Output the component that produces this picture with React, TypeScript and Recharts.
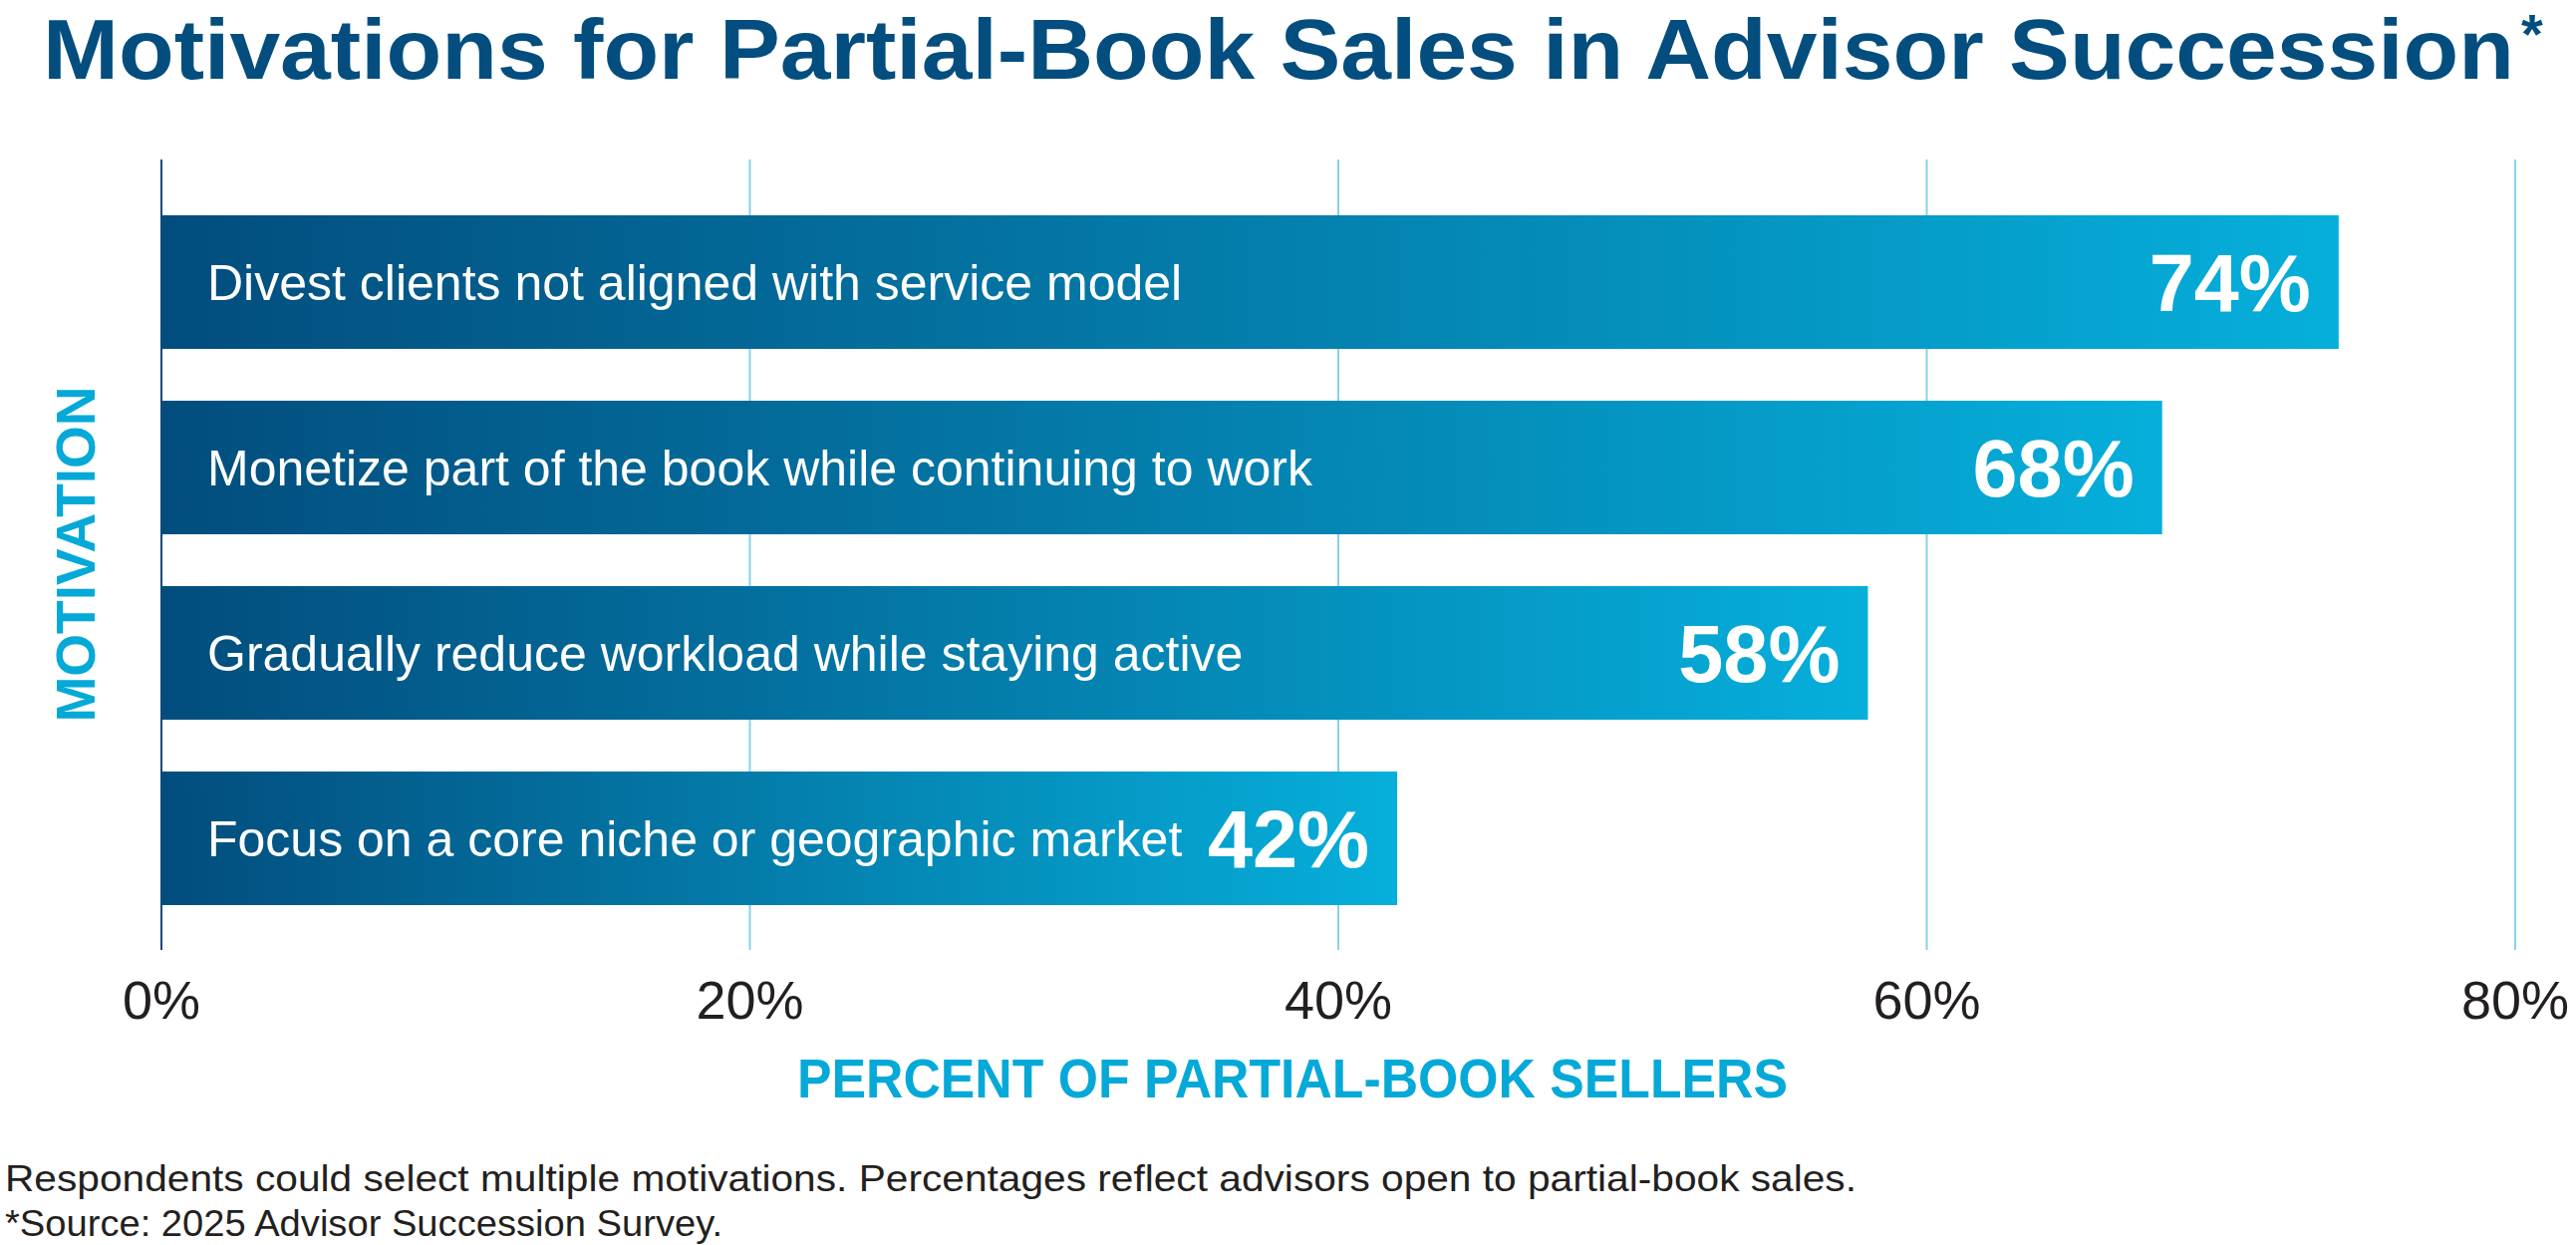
import React from 'react'
import {
    Bar,
    BarChart,
    CartesianGrid,
    LabelList,
    ReferenceLine,
    XAxis,
    YAxis,
} from 'recharts'

const MOTIVATIONS = [
    'Divest clients not aligned with service model',
    'Monetize part of the book while continuing to work',
    'Gradually reduce workload while staying active',
    'Focus on a core niche or geographic market',
]

const SHARES = [74, 68, 58, 42]

const X_TICKS = [0, 20, 40, 60, 80]

const DATA = MOTIVATIONS.map((motivation, i) => ({
    motivation,
    value: SHARES[i],
}))

const NAVY = '#034e7e'
const CYAN = '#05a9d8'
const GRID = '#86d2e9'
const INK = '#231f20'
const FONT = '"Liberation Sans", Arial, Helvetica, sans-serif'

const XTick = (props: any) => {
    const { x, y, payload } = props
    return (
        <text
            x={x}
            y={y + 67}
            textAnchor="middle"
            fontSize={54}
            fontFamily={FONT}
            fill={INK}
        >
            {`${payload.value}%`}
        </text>
    )
}

const renderName = (props: any) => {
    const { x, y, height, value } = props
    return (
        <text
            x={x + 46}
            y={y + height / 2 + 18}
            fontSize={50}
            fontFamily={FONT}
            fill="#ffffff"
        >
            {value}
        </text>
    )
}

const renderValue = (props: any) => {
    const { x, y, width, height, value } = props
    return (
        <text
            x={x + width - 28}
            y={y + height / 2 + 29}
            textAnchor="end"
            fontSize={81}
            fontWeight={700}
            fontFamily={FONT}
            fill="#ffffff"
        >
            {`${value}%`}
        </text>
    )
}

export default function App() {
    return (
        <div
            style={{
                position: 'relative',
                width: 2585,
                height: 1249,
                background: '#ffffff',
                overflow: 'hidden',
            }}
        >
            <style>{'body { margin: 0; }'}</style>
            <BarChart
                width={2585}
                height={1249}
                layout="vertical"
                data={DATA}
                margin={{ top: 160, right: 61, bottom: 216, left: 162 }}
            >
                <defs>
                    <linearGradient id="barGrad" x1="0" y1="0" x2="1" y2="0">
                        <stop offset="0%" stopColor="#024d7d" />
                        <stop offset="100%" stopColor="#06afdb" />
                    </linearGradient>
                </defs>
                <CartesianGrid
                    horizontal={false}
                    stroke={GRID}
                    strokeWidth={2}
                />
                <XAxis
                    type="number"
                    domain={[0, 80]}
                    ticks={X_TICKS}
                    interval={0}
                    axisLine={false}
                    tickLine={false}
                    tickSize={0}
                    height={80}
                    tick={<XTick />}
                />
                <YAxis
                    type="category"
                    dataKey="motivation"
                    hide
                    padding={{ top: 30, bottom: 19 }}
                />
                <ReferenceLine x={0} stroke="#0b4a7a" strokeWidth={2} />
                <Bar
                    dataKey="value"
                    fill="url(#barGrad)"
                    barSize={134}
                    isAnimationActive={false}
                >
                    <LabelList dataKey="motivation" content={renderName} />
                    <LabelList dataKey="value" content={renderValue} />
                </Bar>
            </BarChart>
            <svg
                width={2585}
                height={1249}
                style={{
                    position: 'absolute',
                    left: 0,
                    top: 0,
                    pointerEvents: 'none',
                }}
                fontFamily={FONT}
            >
                <text x={43} y={79} fontWeight={700} fill={NAVY}>
                    <tspan
                        fontSize={86}
                        textLength={2480}
                        lengthAdjust="spacingAndGlyphs"
                    >
                        Motivations for Partial-Book Sales in Advisor Succession
                    </tspan>
                    <tspan x={2530} y={53} fontSize={56}>
                        *
                    </tspan>
                </text>
                <text
                    x={95}
                    y={556}
                    transform="rotate(-90, 95, 556)"
                    textAnchor="middle"
                    fontSize={55}
                    fontWeight={700}
                    fill={CYAN}
                >
                    MOTIVATION
                </text>
                <text
                    x={1297}
                    y={1101}
                    textAnchor="middle"
                    fontSize={56}
                    fontWeight={700}
                    fill={CYAN}
                    textLength={994}
                    lengthAdjust="spacingAndGlyphs"
                >
                    PERCENT OF PARTIAL-BOOK SELLERS
                </text>
                <text
                    x={5}
                    y={1195}
                    fontSize={37}
                    fill={INK}
                    textLength={1858}
                    lengthAdjust="spacingAndGlyphs"
                >
                    Respondents could select multiple motivations. Percentages reflect advisors open to partial-book sales.
                </text>
                <text
                    x={5}
                    y={1240}
                    fontSize={37}
                    fill={INK}
                    textLength={720}
                    lengthAdjust="spacingAndGlyphs"
                >
                    *Source: 2025 Advisor Succession Survey.
                </text>
            </svg>
        </div>
    )
}
